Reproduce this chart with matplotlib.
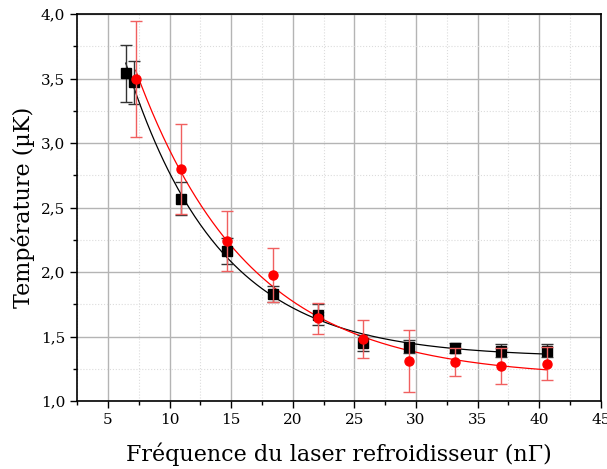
import numpy as np
import matplotlib
matplotlib.use("Agg")
import matplotlib.pyplot as plt
from matplotlib.ticker import MultipleLocator, FuncFormatter

# black squares
x_noir = [6.45, 7.1, 10.9, 14.7, 18.4, 22.05, 25.7, 29.4, 33.2, 36.9, 40.6]
t_noir = [3.54, 3.47, 2.57, 2.16, 1.83, 1.67, 1.45, 1.42, 1.41, 1.39, 1.39]
e_noir = [0.22, 0.17, 0.13, 0.10, 0.06, 0.08, 0.06, 0.05, 0.04, 0.05, 0.05]

# red circles
x_rouge = [7.25, 10.9, 14.7, 18.4, 22.05, 25.7, 29.4, 33.2, 36.9, 40.6]
t_rouge = [3.50, 2.80, 2.24, 1.98, 1.64, 1.48, 1.31, 1.30, 1.27, 1.29]
e_rouge = [0.45, 0.35, 0.23, 0.21, 0.12, 0.15, 0.24, 0.11, 0.14, 0.13]


def fit_exp(x, y, e):
    # y = y0 + A exp(-x/tau), weighted least squares, grid on tau
    x, y, w = np.asarray(x), np.asarray(y), 1 / np.asarray(e)
    best = None
    for tau in np.linspace(1, 30, 2000):
        M = np.column_stack([np.ones_like(x), np.exp(-x / tau)])
        c, *_ = np.linalg.lstsq(M * w[:, None], y * w, rcond=None)
        r = np.sum(((M @ c - y) * w) ** 2)
        if best is None or r < best[0]:
            best = (r, tau, c)
    _, tau, c = best
    xs = np.linspace(x.min(), x.max(), 300)
    return xs, c[0] + c[1] * np.exp(-xs / tau)


plt.rcParams['font.family'] = ['DejaVu Serif']

fig = plt.figure(figsize=(6.07, 4.69), dpi=100)
ax = fig.add_axes([0.127, 0.145, 0.863, 0.825])

ax.grid(True, which='major', color='#b4b4b4', lw=1, zorder=0)
ax.grid(True, which='minor', color='#dcdcdc', lw=0.8, ls=':', zorder=0)
ax.set_axisbelow(True)

xs, ys = fit_exp(x_noir, t_noir, e_noir)
ax.plot(xs, ys, color='black', lw=0.9, zorder=3)
xs, ys = fit_exp(x_rouge, t_rouge, e_rouge)
ax.plot(xs, ys, color='red', lw=0.9, zorder=3)

ax.errorbar(x_noir, t_noir, yerr=e_noir, fmt='s', color='black', ms=7,
            ecolor='#333333', elinewidth=1, capsize=4, capthick=1, zorder=4)
ax.errorbar(x_rouge, t_rouge, yerr=e_rouge, fmt='o', color='red', ms=6.5,
            ecolor='#f06060', elinewidth=1, capsize=4, capthick=1, zorder=5)

ax.set_xlim(2.5, 45)
ax.set_ylim(1.0, 4.0)
ax.xaxis.set_major_locator(MultipleLocator(5))
ax.xaxis.set_minor_locator(MultipleLocator(2.5))
ax.yaxis.set_major_locator(MultipleLocator(0.5))
ax.yaxis.set_minor_locator(MultipleLocator(0.25))
ax.yaxis.set_major_formatter(FuncFormatter(lambda v, p: f"{v:.1f}".replace('.', ',')))
ax.xaxis.set_major_formatter(FuncFormatter(lambda v, p: f"{v:.0f}"))
ax.tick_params(which='major', direction='out', length=5, width=1, labelsize=11)
ax.tick_params(which='minor', direction='out', length=3, width=1)
for s in ax.spines.values():
    s.set_linewidth(1.2)

ax.set_xlabel("Fréquence du laser refroidisseur (nΓ)", fontsize=16, labelpad=11)
ax.set_ylabel("Température (µK)", fontsize=16, labelpad=4)

fig.savefig("out.png", dpi=100)
